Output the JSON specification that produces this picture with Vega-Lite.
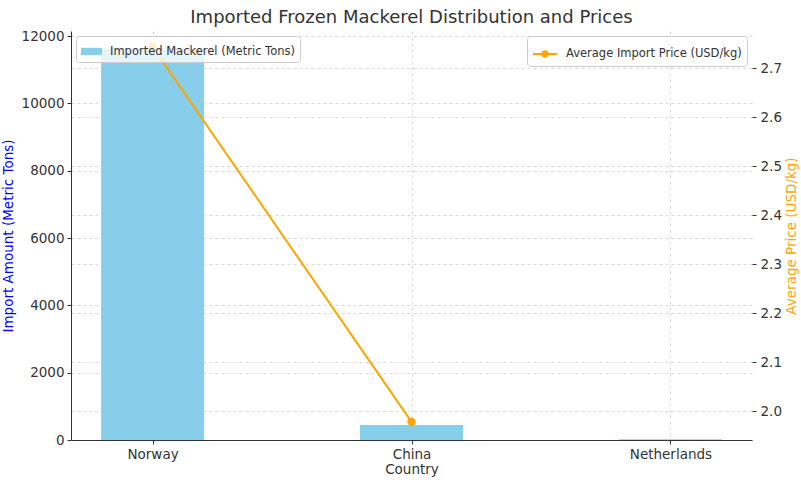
{
  "$schema": "https://vega.github.io/schema/vega-lite/v6.json",
  "width": 681,
  "height": 409,
  "autosize": {"type": "none"},
  "padding": {"left": 71, "top": 31, "right": 49, "bottom": 45},
  "background": "white",
  "config": {
    "font": "DejaVu Sans",
    "view": {"stroke": null},
    "axis": {
      "labelFont": "DejaVu Sans",
      "titleFont": "DejaVu Sans",
      "labelFontSize": 13.5,
      "titleFontSize": 13.5,
      "titleFontWeight": "normal",
      "labelColor": "#333",
      "tickColor": "#333",
      "domainColor": "#333",
      "gridColor": "#d0d0d0",
      "gridDash": [3, 3],
      "gridWidth": 0.8
    }
  },
  "title": {"text": "Imported Frozen Mackerel Distribution and Prices", "fontSize": 18, "fontWeight": "normal", "color": "#333", "font": "DejaVu Sans", "offset": 2},
  "data": {
    "values": [
      {"country": "Norway", "amount": 11630, "price": 2.743},
      {"country": "China", "amount": 445, "price": 1.978},
      {"country": "Netherlands", "amount": 20, "price": null}
    ]
  },
  "encoding": {
    "x": {
      "field": "country",
      "type": "nominal",
      "sort": null,
      "scale": {"type": "point", "padding": 0.315},
      "axis": {"title": "Country", "labelAngle": 0, "grid": true, "tickSize": 4, "titlePadding": 2, "titleColor": "#333", "labelPadding": 3}
    }
  },
  "layer": [
    {
      "mark": {"type": "bar", "width": 103},
      "encoding": {
        "y": {
          "field": "amount",
          "type": "quantitative",
          "scale": {"domain": [0, 12150], "nice": false},
          "axis": {"title": "Import Amount (Metric Tons)", "titleColor": "blue", "values": [0, 2000, 4000, 6000, 8000, 10000, 12000], "format": "d", "grid": true, "tickSize": 4, "labelPadding": 3, "titlePadding": 6}
        },
        "color": {
          "datum": "Imported Mackerel (Metric Tons)",
          "scale": {"range": ["#87CEEB"]},
          "legend": {"orient": "top-left", "title": null, "symbolType": "M-1,-0.35L1,-0.35L1,0.35L-1,0.35Z", "symbolSize": 441, "labelFontSize": 11.5, "labelLimit": 400, "labelColor": "#333", "labelFont": "DejaVu Sans", "fillColor": "rgba(255,255,255,0.8)", "strokeColor": "#ccc", "padding": 5, "cornerRadius": 3, "offset": 5, "symbolStrokeWidth": 0, "labelOffset": 8}
        }
      }
    },
    {
      "mark": {"type": "line", "strokeWidth": 2, "point": {"filled": true, "fill": "orange", "size": 40}},
      "encoding": {
        "y": {
          "field": "price",
          "type": "quantitative",
          "scale": {"domain": [1.941, 2.7755], "nice": false, "zero": false},
          "axis": {"orient": "right", "title": "Average Price (USD/kg)", "titleColor": "orange", "titleAngle": 270, "titleX": 39, "titleBaseline": "middle", "values": [2.0, 2.1, 2.2, 2.3, 2.4, 2.5, 2.6, 2.7], "format": ".1f", "grid": true, "domain": false, "tickSize": 4, "labelPadding": 4}
        },
        "stroke": {
          "datum": "Average Import Price (USD/kg)",
          "scale": {"range": ["orange"]},
          "legend": {"orient": "top-right", "title": null, "symbolType": "M-1,0L1,0M0.22,0A0.22,0.22,0,1,1,-0.22,0A0.22,0.22,0,1,1,0.22,0Z", "symbolFillColor": "orange", "symbolStrokeWidth": 2, "symbolSize": 576, "labelFontSize": 11.5, "labelLimit": 400, "labelColor": "#333", "labelFont": "DejaVu Sans", "fillColor": "rgba(255,255,255,0.8)", "strokeColor": "#ccc", "padding": 5, "cornerRadius": 3, "offset": 5, "labelOffset": 8}
        }
      }
    }
  ],
  "resolve": {"scale": {"y": "independent", "color": "independent", "stroke": "independent"}, "legend": {"color": "independent", "stroke": "independent"}}
}
